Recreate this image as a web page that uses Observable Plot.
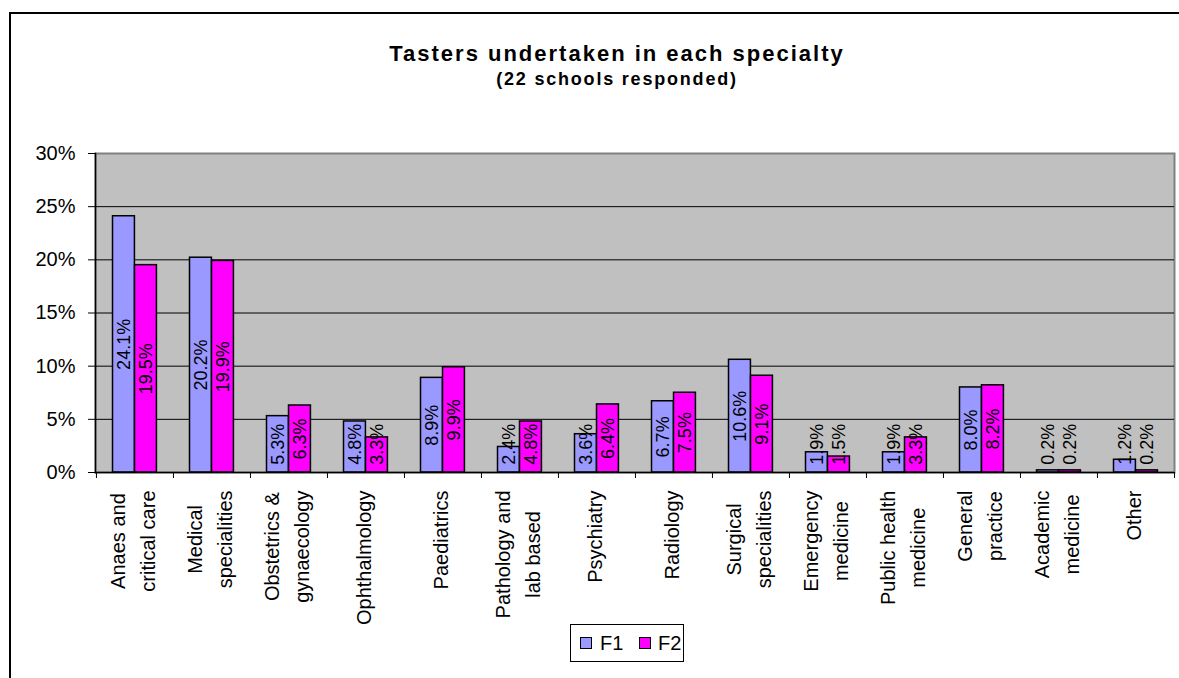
<!DOCTYPE html>
<html>
<head>
<meta charset="utf-8">
<script src="https://cdn.jsdelivr.net/npm/d3@7"></script>
<script src="https://cdn.jsdelivr.net/npm/@observablehq/plot@0.6"></script>
<style>
  html, body { margin: 0; padding: 0; background: #fff; overflow: hidden; width: 1179px; height: 678px; }
  body { position: relative; font-family: "Liberation Sans", Arial, sans-serif; color: #000; }
  #border { position: absolute; left: 9px; top: 12px; width: 1200px; height: 700px; border-left: 2px solid #000; border-top: 2px solid #000; box-sizing: border-box; }
  #title { position: absolute; left: 317px; width: 600px; top: 43px; text-align: center; font-weight: bold; font-size: 22px; line-height: 22px; letter-spacing: 2px; white-space: nowrap; }
  #subtitle { position: absolute; left: 317px; width: 600px; top: 70px; text-align: center; font-weight: bold; font-size: 18px; line-height: 18px; letter-spacing: 1.8px; white-space: nowrap; }
  #chart { position: absolute; left: 0; top: 140px; }
  #legend { position: absolute; left: 570px; top: 624px; width: 114px; height: 38px; border: 1px solid #000; box-sizing: border-box; font-size: 20px; }
  .sw { position: absolute; top: 12px; width: 12px; height: 12px; border: 1.5px solid #000; box-sizing: border-box; }
  .lt { position: absolute; top: 7px; line-height: 22px; }
</style>
</head>
<body>
<div id="border"></div>
<div id="title">Tasters undertaken in each specialty</div>
<div id="subtitle">(22 schools responded)</div>
<div id="chart"></div>
<div id="legend"></div>
<script>
const categories = [
  "Anaes and\ncritical care",
  "Medical\nspecialities",
  "Obstetrics &\ngynaecology",
  "Ophthalmology",
  "Paediatrics",
  "Pathology and\nlab based",
  "Psychiatry",
  "Radiology",
  "Surgical\nspecialities",
  "Emergency\nmedicine",
  "Public health\nmedicine",
  "General\npractice",
  "Academic\nmedicine",
  "Other"
];
const f1 = [24.1, 20.2, 5.3, 4.8, 8.9, 2.4, 3.6, 6.7, 10.6, 1.9, 1.9, 8.0, 0.2, 1.2];
const f2 = [19.5, 19.9, 6.3, 3.3, 9.9, 4.8, 6.4, 7.5, 9.1, 1.5, 3.3, 8.2, 0.2, 0.2];
const seriesNames = ["F1", "F2"];
const seriesColors = ["#9999FF", "#FF00FF"];
const yTicks = [0, 5, 10, 15, 20, 25, 30];

const rows1 = categories.map((c, i) => ({cat: c, v: f1[i]}));
const rows2 = categories.map((c, i) => ({cat: c, v: f2[i]}));

const W = 1179, mL = 95, mR = 5, mT = 13, mB = 150, H = 482;
const bw = (W - mL - mR) / categories.length;
const font = '"Liberation Sans", Arial, sans-serif';

// measure category label lines to top-align the block (Excel style)
const ctx = document.createElement("canvas").getContext("2d");
ctx.font = "20px " + font;
const blockLen = c => Math.max(...c.split("\n").map(s => ctx.measureText(s).width));

const minLabelCenter = 2.65;
const fmt = v => v.toFixed(1) + "%";

const catLabels = categories.map(c => Plot.text([c], {
  x: d => d, text: d => d, frameAnchor: "bottom", rotate: -90,
  textAnchor: "middle", lineAnchor: "middle", lineHeight: 1.5, fontSize: 20,
  dx: -5, dy: 18 + blockLen(c) / 2, fill: "#000"
}));

const chart = Plot.plot({
  width: W, height: H,
  marginLeft: mL, marginRight: mR, marginTop: mT, marginBottom: mB,
  style: {fontFamily: font, fontSize: "20px", color: "#000", background: "transparent", overflow: "visible"},
  x: {domain: categories, padding: 0, axis: null},
  y: {domain: [0, 30], axis: null},
  marks: [
    Plot.frame({fill: "#C0C0C0", stroke: "#808080", strokeWidth: 2}),
    Plot.ruleY(yTicks.filter(t => t > 0 && t < 30), {stroke: "#000", strokeWidth: 1}),
    Plot.barY(rows1, {x: "cat", y: "v", fill: seriesColors[0], stroke: "#000", strokeWidth: 1.5,
      insetLeft: 16.5, insetRight: bw - 38.5}),
    Plot.barY(rows2, {x: "cat", y: "v", fill: seriesColors[1], stroke: "#000", strokeWidth: 1.5,
      insetLeft: 38.5, insetRight: bw - 60.5}),
    Plot.ruleY([0], {stroke: "#000", strokeWidth: 1.5}),
    Plot.frame({anchor: "left", stroke: "#000", strokeWidth: 1.5}),
    Plot.text(rows1, {x: "cat", y: d => Math.max(d.v / 2, minLabelCenter), text: d => fmt(d.v),
      rotate: -90, textAnchor: "middle", fontSize: 18, dx: -11, fill: "#000"}),
    Plot.text(rows2, {x: "cat", y: d => Math.max(d.v / 2, minLabelCenter), text: d => fmt(d.v),
      rotate: -90, textAnchor: "middle", fontSize: 18, dx: 11, fill: "#000"}),
    Plot.axisY({ticks: yTicks, tickFormat: d => d + "%", tickSize: 7, tickPadding: 13, fontSize: 20, label: null, stroke: "#000"}),
    Plot.axisX({ticks: categories, tickFormat: () => "", tickSize: 6, dx: -bw / 2, label: null, stroke: "#000"}),
    Plot.axisX({ticks: [categories[categories.length - 1]], tickFormat: () => "", tickSize: 6, dx: bw / 2, label: null, stroke: "#000"}),
    ...catLabels
  ]
});
document.getElementById("chart").appendChild(chart);

const legend = document.getElementById("legend");
const swLeft = [9, 68], txtLeft = [29, 87];
seriesNames.forEach((n, i) => {
  const sw = document.createElement("div");
  sw.className = "sw";
  sw.style.left = swLeft[i] + "px";
  sw.style.background = seriesColors[i];
  const t = document.createElement("span");
  t.className = "lt";
  t.style.left = txtLeft[i] + "px";
  t.textContent = n;
  legend.appendChild(sw); legend.appendChild(t);
});
</script>
</body>
</html>
